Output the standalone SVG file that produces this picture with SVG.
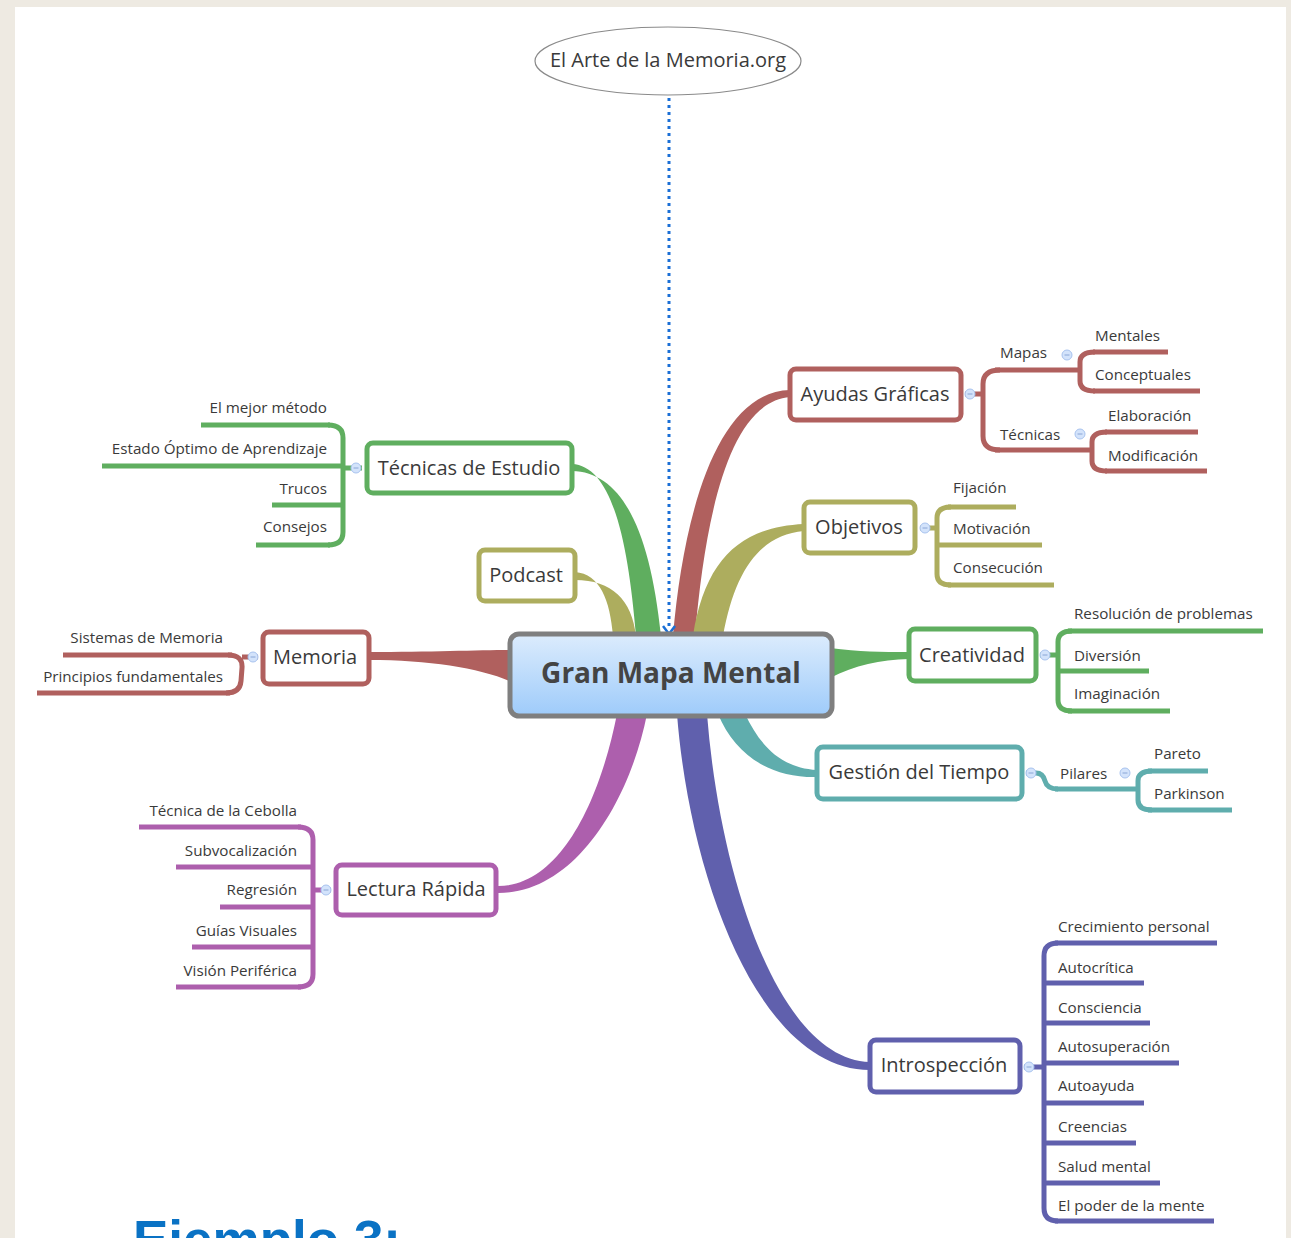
<svg xmlns="http://www.w3.org/2000/svg" width="1291" height="1238" viewBox="0 0 1291 1238">
<defs>
<linearGradient id="cg" x1="0" y1="0" x2="0" y2="1">
<stop offset="0" stop-color="#dcecfd"/>
<stop offset="1" stop-color="#9ecbfa"/>
</linearGradient>
<g id="minus"><line x1="-2.5" y1="0" x2="2.5" y2="0" stroke="#8aa6d6" stroke-width="1"/></g>
<style>
text{font-family:"Open Sans","Noto Sans","DejaVu Sans",sans-serif;fill:#3a3a3a}
.t{font-size:20px;text-anchor:middle}
.s{font-size:15.2px}
.r{text-anchor:end}
.box{fill:#fff;stroke-width:5}
.br{fill:none;stroke-width:5;stroke-linecap:butt;stroke-linejoin:round}
.ln{stroke-width:5}
.red{stroke:#b0605e}.fred{fill:#b0605e}
.grn{stroke:#5fae5f}.fgrn{fill:#5fae5f}
.olv{stroke:#adad5e}.folv{fill:#adad5e}
.tea{stroke:#5fadad}.ftea{fill:#5fadad}
.pur{stroke:#6060ad}.fpur{fill:#6060ad}
.mag{stroke:#ad5fad}.fmag{fill:#ad5fad}
.col{fill:#d3e3fb;stroke:#a8c3ef;stroke-width:1}
</style>
</defs>
<rect x="0" y="0" width="1291" height="1238" fill="#eeeae2"/>
<rect x="15" y="7" width="1271" height="1231" fill="#ffffff"/>

<g id="connectors">
<path class="fgrn" d="M572,464 C612,466 628,540 636,636 L661,636 C650,530 622,472 572,471 Z"/>
<path class="folv" d="M575,572 C600,574 610,600 613,636 L636,636 C632,600 612,580 575,580 Z"/>
<path class="fred" d="M673,636 C683,520 715,392 790,390 L790,397 C728,402 705,520 695,636 Z"/>
<path class="folv" d="M693,636 C705,560 740,527 804,524 L804,531 C760,535 735,570 723,636 Z"/>
<path class="fred" d="M369,652 C430,652 480,650 512,650 L512,682 C480,668 430,660 369,660 Z"/>
<path class="fgrn" d="M830,648 C860,652 880,652 909,652 L909,659 C880,660 855,665 830,678 Z"/>
<path class="ftea" d="M718,714 C735,755 770,778 817,777 L817,770 C780,768 760,745 745,714 Z"/>
<path class="fpur" d="M677,714 C690,880 760,1070 870,1070 L870,1062 C780,1060 720,880 707,714 Z"/>
<path class="fmag" d="M617,714 C600,800 560,888 496,886 L496,893 C575,895 630,800 647,714 Z"/>
<line x1="669" y1="98" x2="669" y2="630" stroke="#1a6fd6" stroke-width="3" stroke-dasharray="3,4"/>
<path d="M663,626 L669,634 L675,626" fill="none" stroke="#1a6fd6" stroke-width="2.5" stroke-linejoin="miter"/>
<path class="br red" d="M965,394 L983,394 M1000,370 Q983,370 983,384 L983,436 Q983,450 1000,450"/>
<path class="br red" d="M1095,352 Q1080,352 1080,362 L1080,381 Q1080,391 1095,391"/>
<path class="br red" d="M1107,432 Q1092,432 1092,442 L1092,461 Q1092,471 1107,471"/>
<path class="br grn" d="M362,468 L343,468 M328,425 Q343,425 343,438 L343,532 Q343,545 328,545"/>
<path class="br red" d="M258,657 L242,657 M228,655 Q243,655 242,668 L241,681 Q240,693 226,693"/>
<path class="br olv" d="M920,528 L937,528 M951,507 Q937,507 937,518 L937,574 Q937,585 951,585"/>
<path class="br grn" d="M1040,655 L1058,655 M1072,631 Q1058,631 1058,642 L1058,700 Q1058,711 1072,711"/>
<path class="br tea" d="M1026,773 L1036,773 Q1043,773 1045,781 Q1047,789 1058,789"/>
<path class="br tea" d="M1152,771 Q1138,771 1138,781 L1138,800 Q1138,810 1152,810"/>
<path class="br mag" d="M331,890 L313,890 M298,827 Q313,827 313,840 L313,974 Q313,987 298,987"/>
<path class="br pur" d="M1024,1067 L1044,1067 M1058,943 Q1044,943 1044,956 L1044,1208 Q1044,1221 1058,1221"/>
</g>

<g id="source">
<ellipse cx="668" cy="61" rx="133" ry="34" fill="#fff" stroke="#8a8a8a" stroke-width="1.2"/>
<text x="668" y="67" font-size="20" text-anchor="middle">El Arte de la Memoria.org</text>
</g>

<g id="center">
<rect x="510" y="634" width="322" height="82" rx="9" fill="url(#cg)" stroke="#7f7f7f" stroke-width="5"/>
<text x="671" y="683" font-size="28" font-weight="bold" text-anchor="middle" style="fill:#444">Gran Mapa Mental</text>
</g>

<g id="ayudas">
<rect class="box red" x="790" y="369" width="171" height="51" rx="6"/>
<text class="t" x="875" y="401">Ayudas Gráficas</text>
<circle class="col" cx="970" cy="394" r="5"/><use href="#minus" x="970" y="394"/>
</g>
<g id="mapas"><line class="ln red" x1="995" y1="370" x2="1081" y2="370"/><text class="s" x="1000" y="358">Mapas</text><circle class="col" cx="1067" cy="355" r="5"/><use href="#minus" x="1067" y="355"/></g>
<g id="mentales"><line class="ln red" x1="1093" y1="352" x2="1168" y2="352"/><text class="s" x="1095" y="341">Mentales</text></g>
<g id="conceptuales"><line class="ln red" x1="1093" y1="391" x2="1200" y2="391"/><text class="s" x="1095" y="380">Conceptuales</text></g>
<g id="tecnicas2"><line class="ln red" x1="995" y1="450" x2="1093" y2="450"/><text class="s" x="1000" y="440">Técnicas</text><circle class="col" cx="1080" cy="434" r="5"/><use href="#minus" x="1080" y="434"/></g>
<g id="elaboracion"><line class="ln red" x1="1105" y1="432" x2="1198" y2="432"/><text class="s" x="1108" y="421">Elaboración</text></g>
<g id="modificacion"><line class="ln red" x1="1105" y1="471" x2="1207" y2="471"/><text class="s" x="1108" y="461">Modificación</text></g>

<g id="tecnicas">
<rect class="box grn" x="367" y="443" width="205" height="50" rx="6"/>
<text class="t" x="469" y="475">Técnicas de Estudio</text>
<circle class="col" cx="356" cy="468" r="5"/><use href="#minus" x="356" y="468"/>
</g>
<g id="mejor"><line class="ln grn" x1="201" y1="425" x2="330" y2="425"/><text class="s r" x="327" y="413">El mejor método</text></g>
<g id="estado"><line class="ln grn" x1="102" y1="466" x2="343" y2="466"/><text class="s r" x="327" y="454">Estado Óptimo de Aprendizaje</text></g>
<g id="trucos"><line class="ln grn" x1="272" y1="505" x2="343" y2="505"/><text class="s r" x="327" y="494">Trucos</text></g>
<g id="consejos"><line class="ln grn" x1="256" y1="545" x2="330" y2="545"/><text class="s r" x="327" y="532">Consejos</text></g>

<g id="objetivos">
<rect class="box olv" x="804" y="502" width="111" height="51" rx="6"/>
<text class="t" x="859" y="534">Objetivos</text>
<circle class="col" cx="925" cy="528" r="5"/><use href="#minus" x="925" y="528"/>
</g>
<g id="fijacion"><line class="ln olv" x1="948" y1="507" x2="1016" y2="507"/><text class="s" x="953" y="493">Fijación</text></g>
<g id="motivacion"><line class="ln olv" x1="937" y1="545" x2="1042" y2="545"/><text class="s" x="953" y="534">Motivación</text></g>
<g id="consecucion"><line class="ln olv" x1="948" y1="585" x2="1054" y2="585"/><text class="s" x="953" y="573">Consecución</text></g>

<g id="podcast">
<rect class="box olv" x="479" y="550" width="96" height="51" rx="6"/>
<text class="t" x="526" y="582">Podcast</text>
</g>

<g id="memoria">
<rect class="box red" x="263" y="632" width="106" height="52" rx="6"/>
<text class="t" x="315" y="664">Memoria</text>
<circle class="col" cx="253" cy="657" r="5"/><use href="#minus" x="253" y="657"/>
</g>
<g id="sistemas"><line class="ln red" x1="63" y1="655" x2="232" y2="655"/><text class="s r" x="223" y="643">Sistemas de Memoria</text></g>
<g id="principios"><line class="ln red" x1="37" y1="693" x2="230" y2="693"/><text class="s r" x="223" y="682">Principios fundamentales</text></g>

<g id="creatividad">
<rect class="box grn" x="909" y="629" width="127" height="52" rx="6"/>
<text class="t" x="972" y="662">Creatividad</text>
<circle class="col" cx="1045" cy="655" r="5"/><use href="#minus" x="1045" y="655"/>
</g>
<g id="resolucion"><line class="ln grn" x1="1068" y1="631" x2="1263" y2="631"/><text class="s" x="1074" y="619">Resolución de problemas</text></g>
<g id="diversion"><line class="ln grn" x1="1058" y1="671" x2="1149" y2="671"/><text class="s" x="1074" y="661">Diversión</text></g>
<g id="imaginacion"><line class="ln grn" x1="1068" y1="711" x2="1170" y2="711"/><text class="s" x="1074" y="699">Imaginación</text></g>

<g id="gestion">
<rect class="box tea" x="817" y="747" width="205" height="52" rx="6"/>
<text class="t" x="919" y="779">Gestión del Tiempo</text>
<circle class="col" cx="1031" cy="773" r="5"/><use href="#minus" x="1031" y="773"/>
</g>
<g id="pilares"><line class="ln tea" x1="1055" y1="789" x2="1139" y2="789"/><text class="s" x="1060" y="779">Pilares</text><circle class="col" cx="1125" cy="773" r="5"/><use href="#minus" x="1125" y="773"/></g>
<g id="pareto"><line class="ln tea" x1="1148" y1="771" x2="1208" y2="771"/><text class="s" x="1154" y="759">Pareto</text></g>
<g id="parkinson"><line class="ln tea" x1="1148" y1="810" x2="1232" y2="810"/><text class="s" x="1154" y="799">Parkinson</text></g>

<g id="lectura">
<rect class="box mag" x="336" y="865" width="160" height="50" rx="6"/>
<text class="t" x="416" y="896">Lectura Rápida</text>
<circle class="col" cx="326" cy="890" r="5"/><use href="#minus" x="326" y="890"/>
</g>
<g id="cebolla"><line class="ln mag" x1="139" y1="827" x2="301" y2="827"/><text class="s r" x="297" y="816">Técnica de la Cebolla</text></g>
<g id="subvocal"><line class="ln mag" x1="176" y1="867" x2="313" y2="867"/><text class="s r" x="297" y="856">Subvocalización</text></g>
<g id="regresion"><line class="ln mag" x1="220" y1="907" x2="313" y2="907"/><text class="s r" x="297" y="895">Regresión</text></g>
<g id="guias"><line class="ln mag" x1="192" y1="947" x2="313" y2="947"/><text class="s r" x="297" y="936">Guías Visuales</text></g>
<g id="vision"><line class="ln mag" x1="176" y1="987" x2="301" y2="987"/><text class="s r" x="297" y="976">Visión Periférica</text></g>

<g id="introspeccion">
<rect class="box pur" x="870" y="1040" width="150" height="52" rx="6"/>
<text class="t" x="944" y="1072">Introspección</text>
<circle class="col" cx="1029" cy="1067" r="5"/><use href="#minus" x="1029" y="1067"/>
</g>
<g id="crecimiento"><line class="ln pur" x1="1055" y1="943" x2="1217" y2="943"/><text class="s" x="1058" y="932">Crecimiento personal</text></g>
<g id="autocritica"><line class="ln pur" x1="1044" y1="983" x2="1144" y2="983"/><text class="s" x="1058" y="973">Autocrítica</text></g>
<g id="consciencia"><line class="ln pur" x1="1044" y1="1023" x2="1150" y2="1023"/><text class="s" x="1058" y="1013">Consciencia</text></g>
<g id="autosuperacion"><line class="ln pur" x1="1044" y1="1063" x2="1179" y2="1063"/><text class="s" x="1058" y="1052">Autosuperación</text></g>
<g id="autoayuda"><line class="ln pur" x1="1044" y1="1103" x2="1144" y2="1103"/><text class="s" x="1058" y="1091">Autoayuda</text></g>
<g id="creencias"><line class="ln pur" x1="1044" y1="1143" x2="1136" y2="1143"/><text class="s" x="1058" y="1132">Creencias</text></g>
<g id="salud"><line class="ln pur" x1="1044" y1="1183" x2="1160" y2="1183"/><text class="s" x="1058" y="1172">Salud mental</text></g>
<g id="poder"><line class="ln pur" x1="1055" y1="1221" x2="1214" y2="1221"/><text class="s" x="1058" y="1211">El poder de la mente</text></g>

<text x="133" y="1258" font-size="53" font-weight="bold" style="font-family:'Liberation Sans',Arial,sans-serif;fill:#0a72c4">Ejemplo 3:</text>
</svg>
